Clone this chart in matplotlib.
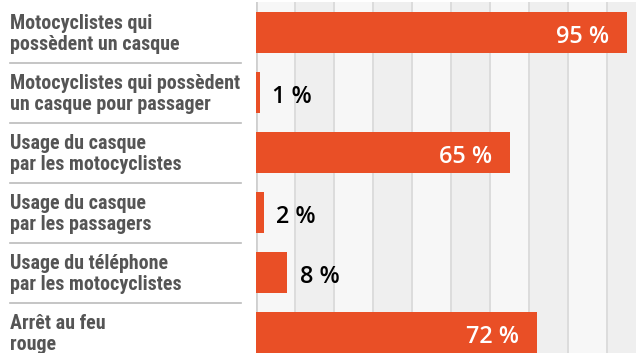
import matplotlib
matplotlib.use("Agg")
import matplotlib.pyplot as plt
import matplotlib.transforms as mtransforms

# data
labels = [
    "Motocyclistes qui\npossèdent un casque",
    "Motocyclistes qui possèdent\nun casque pour passager",
    "Usage du casque\npar les motocyclistes",
    "Usage du casque\npar les passagers",
    "Usage du téléphone\npar les motocyclistes",
    "Arrêt au feu\nrouge",
]
values = [95, 1, 65, 2, 8, 72]
value_labels = ["95 %", "1 %", "65 %", "2 %", "8 %", "72 %"]

bar_color = "#e94f26"
label_color = "#555555"

fig = plt.figure(figsize=(6.36, 3.53), dpi=100)
fig.patch.set_facecolor("white")
ax = fig.add_axes([256 / 636, 0, 1 - 256 / 636, 351 / 353])
ax.set_facecolor("#f7f7f7")

# striped background and grid
for start in range(10, 100, 20):
    ax.axvspan(start, start + 10, color="#efefef", zorder=0, lw=0)
for g in range(10, 100, 10):
    ax.axvline(g, color="#dcdcdc", lw=1.4, zorder=1)
ax.axvline(0, color="#cfcfcf", lw=2.0, zorder=1)

positions = list(range(len(values)))
ax.barh(positions, values, height=0.68, color=bar_color, zorder=2)

for pos, val, txt in zip(positions, values, value_labels):
    if val > 20:
        ax.text(val - 4.5, pos + 0.07, txt, ha="right", va="center",
                color="white", fontsize=16.8, fontweight="semibold",
                family="Open Sans", zorder=3)
    else:
        ax.text(val + 3.2, pos + 0.07, txt, ha="left", va="center",
                color="black", fontsize=16.8, fontweight="semibold",
                family="Open Sans", zorder=3)

ax.set_xlim(0, 97.4)
ax.set_ylim(5.34, -0.508)
ax.set_xticks([])
ax.set_yticks([])
for spine in ax.spines.values():
    spine.set_visible(False)

# category labels and separators on the left
trans = mtransforms.blended_transform_factory(fig.transFigure, ax.transData)
for pos, lab in zip(positions, labels):
    ax.text(10 / 636, pos + 0.02, lab, transform=trans, ha="left", va="center",
            fontsize=14.4, fontweight="bold", color=label_color,
            family=["Roboto Condensed", "Roboto", "DejaVu Sans"],
            linespacing=1.12, clip_on=False)
for pos in positions[:-1]:
    ax.plot([10 / 636, 241 / 636], [pos + 0.5, pos + 0.5], transform=trans,
            color="#bbbbbb", lw=1.2, clip_on=False)

fig.savefig("out.png", dpi=100)
